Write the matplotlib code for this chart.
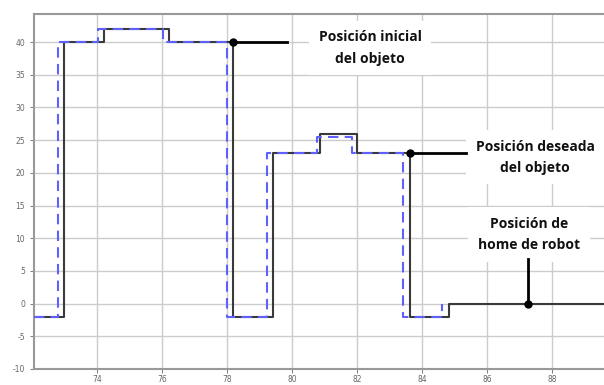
import matplotlib
matplotlib.use("Agg")
import matplotlib.pyplot as plt

plt.rcParams["axes.unicode_minus"] = False

# real (black) and desired (blue dashed) trajectory, stepwise
real_t = [72.06, 72.98, 74.2, 76.2, 78.18, 79.42, 80.86, 82.0, 83.63, 84.83, 89.6]
real_y = [-2, 40, 42, 40, -2, 23, 26, 23, -2, 0, 0]
ref_t = [72.06, 72.8, 74.03, 76.03, 78.0, 79.23, 80.77, 81.85, 83.42, 84.6]
ref_y = [-2, 40, 42, 40, -2, 23, 25.5, 23, -2, 0]

xticks = [74, 76, 78, 80, 82, 84, 86, 88]
yticks = [-10, -5, 0, 5, 10, 15, 20, 25, 30, 35, 40]

fig = plt.figure(figsize=(6.04, 3.85), dpi=100)
ax = fig.add_axes([34 / 604, 16 / 385, 570 / 604, 355 / 385])

ax.plot(real_t, real_y, drawstyle="steps-post", color="#3a3a3a", lw=1.5, zorder=3)
ax.plot(ref_t, ref_y, drawstyle="steps-post", color="#6060ff", lw=1.5,
        dashes=(5, 3), zorder=4)

ax.set_xlim(72.06, 89.6)
ax.set_ylim(-10, 44.3)
ax.set_xticks(xticks)
ax.set_yticks(yticks)
ax.tick_params(labelsize=5.5, colors="#666666", length=3, width=0.6)
ax.tick_params(axis="x", pad=1.5)
ax.grid(True, color="#cccccc", lw=1)
ax.set_axisbelow(True)
for s in ["left", "top", "bottom"]:
    ax.spines[s].set_color("#999999")
    ax.spines[s].set_linewidth(1.5)
ax.spines["right"].set_visible(False)

font = dict(fontsize=10, fontweight="bold", family="Open Sans", color="#111111",
            ha="center", va="center", linespacing=1.65, zorder=5,
            bbox=dict(facecolor="white", edgecolor="none", pad=7))

# annotations
ax.text(82.4, 39.1, "Posición inicial\ndel objeto", **font)
ax.plot([78.18, 79.85], [40, 40], color="black", lw=2, zorder=6)
ax.plot([78.18], [40], "o", color="black", ms=5, zorder=7)

ax.text(87.48, 22.4, "Posición deseada\ndel objeto", **font)
ax.plot([83.63, 85.35], [23, 23], color="black", lw=2, zorder=6)
ax.plot([83.63], [23], "o", color="black", ms=5, zorder=7)

ax.text(87.3, 10.6, "Posición de\nhome de robot", **font)
ax.plot([87.26, 87.26], [0, 6.9], color="black", lw=2, zorder=6)
ax.plot([87.26], [0], "o", color="black", ms=5, zorder=7)

fig.savefig("out.png", dpi=100)
